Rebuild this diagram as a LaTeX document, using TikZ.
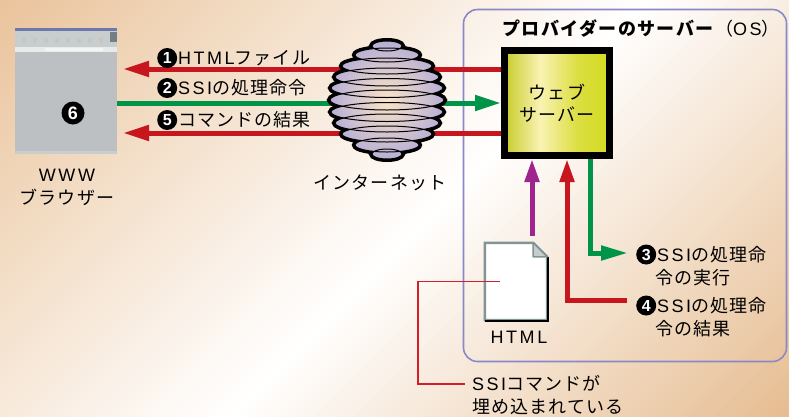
\documentclass[tikz,border=0pt]{standalone}
\usepackage{fontspec}
\setmainfont{Noto Sans CJK JP}[LetterSpace=6]
\newfontfamily\latf{Liberation Sans}[LetterSpace=14]
\newfontfamily\digf{Liberation Sans}
\usetikzlibrary{arrows.meta,calc}

\definecolor{bgA}{RGB}{234,196,156}
\definecolor{bgB}{RGB}{230,188,144}
\definecolor{arrred}{RGB}{200,22,30}
\definecolor{arrgreen}{RGB}{0,148,72}
\definecolor{arrpurple}{RGB}{160,36,142}
\definecolor{osframe}{RGB}{138,136,200}
\definecolor{globelav}{RGB}{178,170,214}
\definecolor{globeglow}{RGB}{250,228,200}
\definecolor{scrgray}{RGB}{188,192,194}
\definecolor{toolgray}{RGB}{200,205,206}
\definecolor{titleblue}{RGB}{110,120,170}
\definecolor{docgray}{RGB}{130,148,150}
\definecolor{foldgray}{RGB}{196,204,204}
\definecolor{callred}{RGB}{214,30,40}

% yellow-green face of the web server block
\pgfdeclarehorizontalshading{webshade}{100bp}{%
  rgb(0bp)=(0.78,0.80,0.16); rgb(25bp)=(0.78,0.80,0.16);
  rgb(42bp)=(0.98,0.95,0.70); rgb(60bp)=(0.86,0.87,0.25);
  rgb(75bp)=(0.83,0.86,0.13); rgb(100bp)=(0.83,0.86,0.13)}

\newcommand\lat[1]{{\latf #1}}
\newcommand\cnum[1]{\tikz[baseline=-6.5pt]\node[circle,fill=black,inner sep=0pt,
  minimum size=20pt,text=white,font=\digf\bfseries\fontsize{16}{16}\selectfont]{#1};\hspace{1pt}}

\tikzset{
  lbl/.style={inner sep=0pt, font=\fontsize{18}{23}\selectfont, align=left},
  redflow/.style={draw=arrred, line width=5pt, -{Triangle[length=26pt,width=15pt]}},
  greenflow/.style={draw=arrgreen, line width=5pt, -{Triangle[length=26pt,width=15pt]}},
  redvert/.style={draw=arrred, line width=5pt, -{Triangle[length=23pt,width=14pt]}},
  greenvert/.style={draw=arrgreen, line width=5pt, -{Triangle[length=27pt,width=14pt]}},
  purplevert/.style={draw=arrpurple, line width=5pt, -{Triangle[length=23pt,width=14pt]}},
}

\begin{document}
\begin{tikzpicture}[x=1pt,y=1pt]
\useasboundingbox (0,0) rectangle (789,-416);

% diagonal background wash
\begin{scope}
  \clip (0,0) rectangle (789,-416);
  \foreach \c in {0,10,...,1200}{
    \ifnum\c<640 \pgfmathsetmacro\p{\c/6.4}\def\bgc{bgA}%
    \else \pgfmathsetmacro\p{(1205-\c)/5.65}\def\bgc{bgB}\fi
    \fill[white!\p!\bgc] (\c+500,500) -- (\c+512,500) -- (\c-988,-1000) -- (\c-1000,-1000) -- cycle;
  }
\end{scope}

% provider server (OS) frame
\node[draw=osframe, line width=1.6pt, rounded corners=14pt, minimum width=323pt,
      minimum height=352pt, inner sep=0pt] (os) at (625,-185.5) {};
\node[lbl, anchor=west] (ostitle) at (502,-29) {\addfontfeature{LetterSpace=8}\textbf{プロバイダーのサーバー}（\lat{OS}）};

% browser window
\node[fill=scrgray, minimum width=102pt, minimum height=126pt, inner sep=0pt] (browser) at (66,-91) {};
\fill[titleblue] (browser.north west) rectangle ([yshift=-3pt]browser.north east);
\fill[toolgray] ([yshift=-3pt]browser.north west) rectangle ([yshift=-19pt]browser.north east);
\fill[white!60!toolgray] ([yshift=-19pt]browser.north west) rectangle ([yshift=-24pt]browser.north east);
\fill[white!80!toolgray] ([xshift=30pt,yshift=-20pt]browser.north west) rectangle ([xshift=-14pt,yshift=-23pt]browser.north east);
\fill[black!60!cyan!40!gray] ([xshift=-7pt,yshift=-4pt]browser.north east) rectangle ([yshift=-14pt]browser.north east);
\foreach \k in {1,...,8}
  \fill[gray!45] ($(browser.north west)+(\k*11-4,-10)$) rectangle ++(4,-5);
\draw[gray!50, line width=0.6pt] ([xshift=4pt,yshift=-25pt]browser.north west) -- ([xshift=4pt,yshift=4pt]browser.south west);
\draw[gray!50, line width=0.6pt] ([xshift=-5pt,yshift=-25pt]browser.north east) -- ([xshift=-5pt,yshift=4pt]browser.south east);
\fill[toolgray] ([yshift=3pt]browser.south west) rectangle (browser.south east);
\node[circle, fill=black, minimum size=23pt, inner sep=0pt, text=white,
      font=\digf\bfseries\fontsize{18}{18}\selectfont] (six) at (73,-113) {6};
\node[lbl, align=center] (brlbl) at (67,-187) {\lat{WWW}\\ブラウザー};

% web server block
\node[draw=black, line width=7pt, shade, shading=webshade, minimum width=105pt,
      minimum height=105pt, inner sep=0pt, align=center,
      font=\fontsize{18}{22}\selectfont] (web) at (557,-103) {ウェブ\\サーバー};

% traffic between browser and server
\coordinate (tip1) at (123,-69);
\coordinate (tip5) at (123,-133);
\draw[redflow] (web.west |- tip1) -- (tip1);
\draw[greenflow] (browser.east |- web.west) -- (web.west);
\draw[redflow] (web.west |- tip5) -- (tip5);
\node[lbl, anchor=west] (l1) at (157,-58) {\cnum{1}\lat{HTML}ファイル};
\node[lbl, anchor=west] (l2) at (157,-88) {\cnum{2}\lat{SSI}の処理命令};
\node[lbl, anchor=west] (l5) at (157,-120) {\cnum{5}コマンドの結果};

% internet: a stack of discs
\coordinate (globe) at (387,-100);
\begin{scope}[shift={(globe)}]
  \def\levels{54/15/5,45/32/7,34/45/8,23/52/9,12/56/9.5,0/57/10,-12/56/9.5,-23/52/9,-34/45/8,-45/32/7,-54/15/5}
  \foreach \y/\a/\b in \levels
    \draw[line width=6pt, fill=black] (0,\y) ellipse [x radius=\a, y radius=\b];
  \begin{scope}
    \clip \foreach \y/\a/\b in \levels {(0,\y) ellipse [x radius=\a, y radius=\b]};
    \shade[inner color=globeglow, outer color=globelav] (0,0) ellipse [x radius=62, y radius=64];
  \end{scope}
  \foreach \y/\a/\b in \levels
    \draw[line width=1pt] (0,\y) ellipse [x radius=\a, y radius=\b];
\end{scope}
\node[lbl] (inet) at (380,-183) {インターネット};

% HTML document
\node[minimum width=62pt, minimum height=77pt, inner sep=0pt] (doc) at (516,-281.5) {};
\filldraw[fill=white, draw=docgray, line width=2.5pt]
  (doc.south west) -- (doc.north west) -- ([xshift=-14pt]doc.north east)
  -- ([yshift=-14pt]doc.north east) -- (doc.south east) -- cycle;
\draw[black, line width=1.5pt] ([xshift=1pt,yshift=-14pt]doc.north east)
  -- ([xshift=1pt,yshift=-1pt]doc.south east) -- ([yshift=-1pt]doc.south west);
\filldraw[fill=foldgray, draw=docgray, line width=1.5pt, line join=round]
  ([xshift=-14pt]doc.north east) -- ([xshift=-14pt,yshift=-14pt]doc.north east)
  -- ([yshift=-14pt]doc.north east) -- cycle;
\node[lbl] (htmllbl) at (519,-337) {\lat{HTML}};

% flows inside the server
\coordinate (pbase) at ([xshift=16pt,yshift=7pt]doc.north);
\draw[purplevert] (pbase) -- (pbase |- web.south);
\coordinate (r4end) at (627,-300);
\coordinate (r4top) at ([xshift=10pt]web.south);
\draw[redvert] (r4end) -| (r4top);
\coordinate (g3top) at ([xshift=33pt]web.south);
\coordinate (g3end) at (628,-253);
\draw[greenvert] (g3top) |- (g3end);
\node[lbl, anchor=west] (lab3) at (636,-265) {\cnum{3}\lat{SSI}の処理命\\\hspace*{19pt}令の実行};
\node[lbl, anchor=west] (lab4) at (636,-316) {\cnum{4}\lat{SSI}の処理命\\\hspace*{19pt}令の結果};

% callout
\node[lbl, anchor=west] (note) at (472,-395) {\lat{SSI}コマンドが\\埋め込まれている};
\draw[callred, line width=1.5pt] ([xshift=-16pt]doc.center) -- ++(-82,0)
  |- ([xshift=-7pt,yshift=11pt]note.west);
\end{tikzpicture}
\end{document}
